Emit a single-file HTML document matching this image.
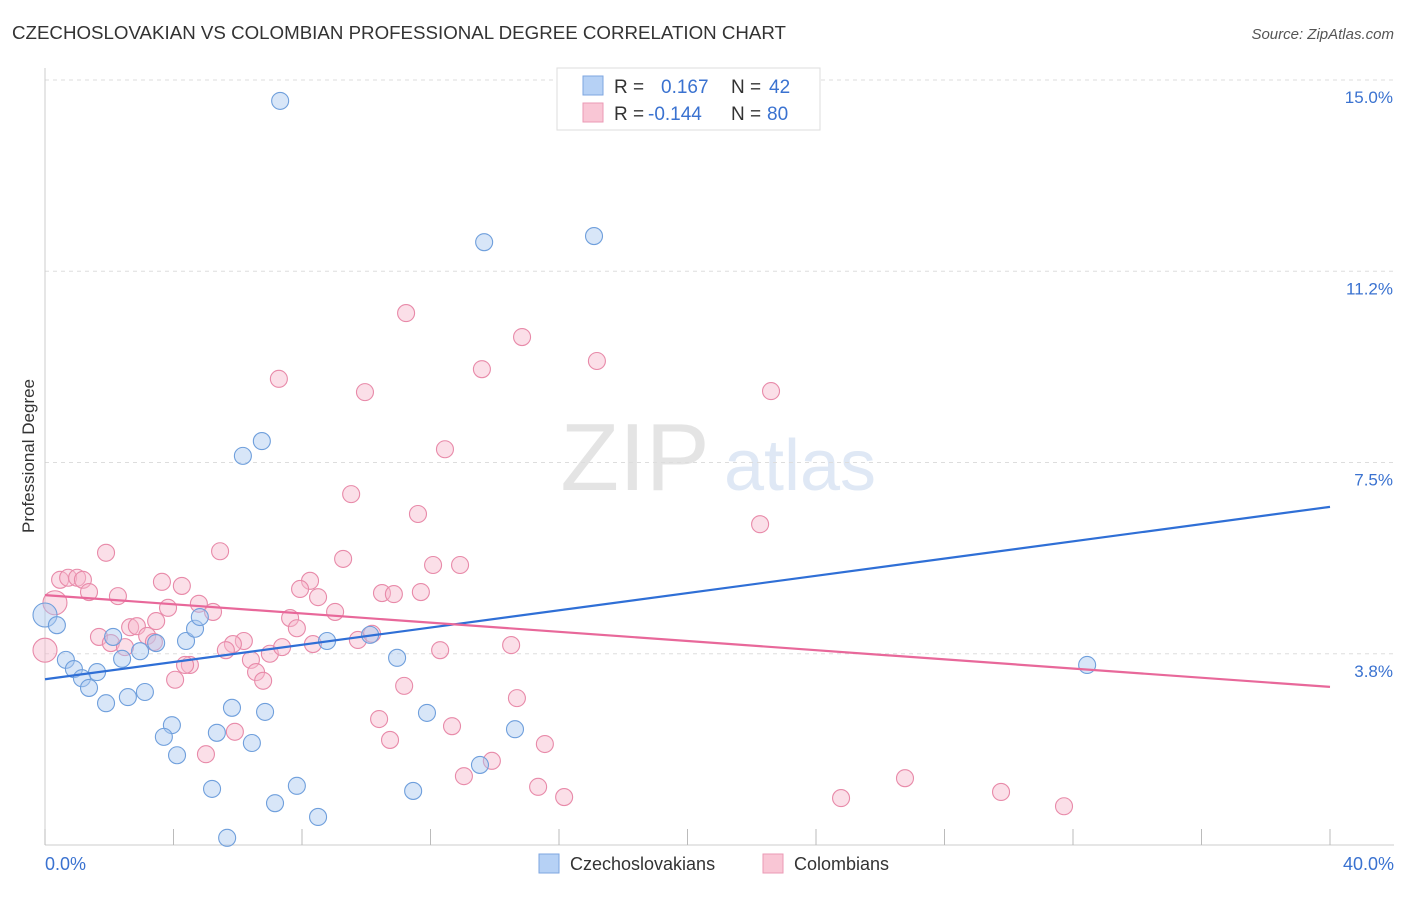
<!DOCTYPE html>
<html><head><meta charset="utf-8"><style>
body{margin:0;background:#fff;font-family:"Liberation Sans",sans-serif}
svg text{font-family:"Liberation Sans",sans-serif}
</style></head><body>
<svg width="1406" height="892" xmlns="http://www.w3.org/2000/svg" id="chart">
<text x="12" y="39" font-size="18" fill="#333" textLength="774" lengthAdjust="spacingAndGlyphs">CZECHOSLOVAKIAN VS COLOMBIAN PROFESSIONAL DEGREE CORRELATION CHART</text>
<text x="1394" y="39" font-size="15" fill="#555" text-anchor="end" font-style="italic">Source: ZipAtlas.com</text>
<text x="34" y="456" font-size="17" fill="#333" text-anchor="middle" transform="rotate(-90 34 456)">Professional Degree</text>
<g><text x="635" y="490" font-size="96" fill="#e4e4e4" text-anchor="middle" font-family="Liberation Serif">ZIP</text><text x="800" y="490" font-size="72" fill="#dfe8f5" text-anchor="middle">atlas</text></g>
<g id="grid"></g><g id="axes"></g><g id="pts"></g><g id="lines"></g>
<g>
<rect x="557" y="68" width="263" height="62" fill="#fff" stroke="#ddd"/>
<rect x="583" y="76" width="20" height="19" fill="#b6d1f5" stroke="#7ea6e0"/>
<rect x="583" y="103" width="20" height="19" fill="#f9c6d5" stroke="#eb9ab5"/>
<text x="614" y="93" font-size="19" fill="#333">R =</text><text x="661" y="93" font-size="19" fill="#3a72d0">0.167</text>
<text x="731" y="93" font-size="19" fill="#333">N =</text><text x="769" y="93" font-size="19" fill="#3a72d0">42</text>
<text x="614" y="120" font-size="19" fill="#333">R =</text><text x="648" y="120" font-size="19" fill="#3a72d0">-0.144</text>
<text x="731" y="120" font-size="19" fill="#333">N =</text><text x="767" y="120" font-size="19" fill="#3a72d0">80</text>
</g>
<g>
<rect x="539" y="854" width="20" height="19" fill="#b6d1f5" stroke="#7ea6e0"/><text x="570" y="870" font-size="18" fill="#333">Czechoslovakians</text>
<rect x="763" y="854" width="20" height="19" fill="#f9c6d5" stroke="#eb9ab5"/><text x="794" y="870" font-size="18" fill="#333">Colombians</text>
</g>
</svg>
<script>
const yTicks=[15.0,11.25,7.5,3.75];
const yTickLabels=["15.0%","11.2%","7.5%","3.8%"];
const blueX=[280,484,594,262,243,45,57,113,156,186,195,200,140,122,66,74,97,82,89,106,128,145,370,327,397,1087,232,265,172,164,217,252,177,427,515,480,212,297,275,413,318,227].map(p=>+((p-45)/1285*40).toFixed(2));
const blueY=[101,242,236,441,456,615,625,637,643,641,629,617,651,659,660,669,672,678,688,703,697,692,635,641,658,665,708,712,725,737,733,743,755,713,729,765,789,786,803,791,817,838].map(p=>+((845-p)/51).toFixed(2));
const pinkX=[406,522,597,279,482,365,771,445,351,418,760,106,220,343,433,460,60,68,77,83,89,162,182,310,300,118,382,394,421,318,55,199,213,168,335,290,156,130,137,297,99,111,147,244,233,154,226,270,282,358,313,372,440,511,45,125,251,190,185,256,263,175,404,517,379,452,235,390,545,206,492,464,905,538,564,841,1001,1064].map(p=>+((p-45)/1285*40).toFixed(2));
const pinkY=[313,337,361,379,369,392,391,449,494,514,524,553,551,559,565,565,580,578,578,580,592,582,586,581,589,596,593,594,592,597,603,604,612,608,612,618,621,627,626,628,637,643,636,641,644,642,650,654,647,640,644,634,650,645,650,647,660,665,665,672,681,680,686,698,719,726,732,740,744,754,761,776,778,787,797,798,792,806].map(p=>+((845-p)/51).toFixed(2));
const blueTrend=[[0,3.25],[40,6.63]];
const pinkTrend=[[0,4.9],[40,3.1]];
const bigBlue=[5],bigPink=[30,54];
const NS='http://www.w3.org/2000/svg';
const xs=v=>45+v/40*1285, ys=v=>845-v*51;
function mk(t,a,p){const e=document.createElementNS(NS,t);for(const k in a)e.setAttribute(k,a[k]);document.getElementById(p).appendChild(e);return e;}
yTicks.forEach((t,i)=>{
 const l=mk('line',{x1:45,x2:1394,y1:ys(t),y2:ys(t),stroke:'#ddd','stroke-dasharray':'4,4'},'grid');
 
 
 const tx=mk('text',{x:1393,y:ys(t)+23,'font-size':17,fill:'#3a72d0','text-anchor':'end'},'grid');tx.textContent=yTickLabels[i];
 
 
});
mk('line',{x1:45,x2:45,y1:68,y2:845,stroke:'#ccc'},'axes');
mk('line',{x1:45,x2:1394,y1:845,y2:845,stroke:'#ccc'},'axes');
for(let i=0;i<=10;i++){const t=mk('line',{x1:xs(i*4),x2:xs(i*4),y1:829,y2:845,stroke:'#bbb'},'axes');
 
 }
const x0=mk('text',{x:45,y:870,'font-size':18,fill:'#3a72d0'},'axes');x0.textContent='0.0%';


const x1=mk('text',{x:1394,y:870,'font-size':18,fill:'#3a72d0','text-anchor':'end'},'axes');x1.textContent='40.0%';


function pts(X,Y,big,fill,stroke,name){X.forEach((v,i)=>{const c=mk('circle',{cx:xs(v),cy:ys(Y[i]),r:big.includes(i)?12:8.5,fill:fill,'fill-opacity':0.45,stroke:stroke,'stroke-width':1.1},'pts');
 
 });}
pts(pinkX,pinkY,bigPink,'#f7b8cc','#e88aa9','colombian-point');
pts(blueX,blueY,bigBlue,'#a9c8f0','#6f9fdc','czech-point');
const bl=mk('line',{x1:xs(blueTrend[0][0]),y1:ys(blueTrend[0][1]),x2:xs(blueTrend[1][0]),y2:ys(blueTrend[1][1]),stroke:'#2f6fd6','stroke-width':2.2},'lines');


const pl=mk('line',{x1:xs(pinkTrend[0][0]),y1:ys(pinkTrend[0][1]),x2:xs(pinkTrend[1][0]),y2:ys(pinkTrend[1][1]),stroke:'#e8689a','stroke-width':2.2},'lines');


</script>
</body></html>
